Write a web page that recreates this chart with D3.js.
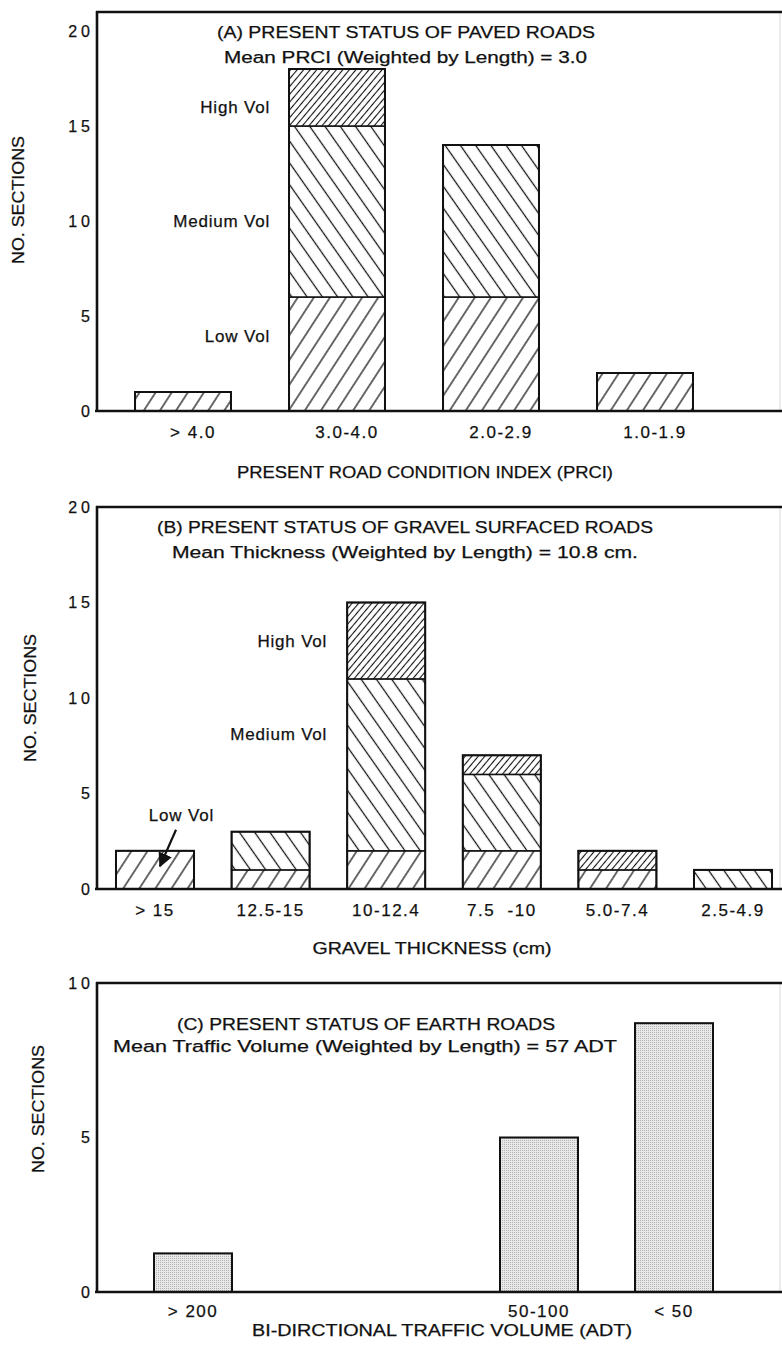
<!DOCTYPE html>
<html>
<head>
<meta charset="utf-8">
<script src="https://cdn.jsdelivr.net/npm/d3@7"></script>
<style>
  html, body { margin: 0; padding: 0; background: #fff; }
  svg { display: block; font-family: "Liberation Sans", Arial, Helvetica, sans-serif; }
  text { white-space: pre; fill: #111; stroke: #111; stroke-width: 0.25px; }
</style>
</head>
<body>
<svg id="chart" width="782" height="1345"></svg>
<script>
// (A) paved roads, sections per PRCI class, stacked by traffic volume
const pavedCategories = ["> 4.0", "3.0-4.0", "2.0-2.9", "1.0-1.9"];
const pavedLow = [1, 6, 6, 2];
const pavedMedium = [0, 9, 8, 0];
const pavedHigh = [0, 3, 0, 0];
const pavedTicks = [0, 5, 10, 15, 20];

// (B) gravel roads, sections per gravel thickness class
const gravelCategories = ["> 15", "12.5-15", "10-12.4", "7.5  -10", "5.0-7.4", "2.5-4.9"];
const gravelLow = [2, 1, 2, 2, 1, 0];
const gravelMedium = [0, 2, 9, 4, 0, 1];
const gravelHigh = [0, 0, 4, 1, 1, 0];
const gravelTicks = [0, 5, 10, 15, 20];

// (C) earth roads, sections per traffic volume class
const earthCategories = ["> 200", "50-100", "< 50"];
const earthSections = [1.25, 5, 8.7];
const earthTicks = [0, 5, 10];

const volumeKeys = ["low", "medium", "high"];

const svg = d3.select("#chart");
const defs = svg.append("defs");
const INK = "#111";

function addHatch(id, spacing, angle, width) {
  const p = defs.append("pattern")
    .attr("id", id)
    .attr("patternUnits", "userSpaceOnUse")
    .attr("width", spacing)
    .attr("height", spacing)
    .attr("patternTransform", `rotate(${angle})`);
  p.append("rect").attr("width", spacing).attr("height", spacing).attr("fill", "#fff");
  p.append("line")
    .attr("x1", spacing / 2).attr("y1", -1)
    .attr("x2", spacing / 2).attr("y2", spacing + 1)
    .attr("stroke", INK).attr("stroke-width", width);
}
addHatch("hatch-low", 13.5, 33, 1.25);     // wide  ////
addHatch("hatch-medium", 12.5, -35, 1.25); // wide  \\\\
addHatch("hatch-high", 5, 40, 1.1);        // dense ////

const stip = defs.append("pattern")
  .attr("id", "stipple").attr("patternUnits", "userSpaceOnUse")
  .attr("width", 2).attr("height", 2);
stip.append("rect").attr("width", 2).attr("height", 2).attr("fill", "#e8e8e8");
stip.append("rect").attr("width", 1).attr("height", 1).attr("fill", "#b4b4b4");

const fillFor = { low: "url(#hatch-low)", medium: "url(#hatch-medium)", high: "url(#hatch-high)" };

// arrow head for the "Low Vol" pointer
defs.append("marker")
  .attr("id", "arrowhead")
  .attr("viewBox", "0 0 10 10")
  .attr("refX", 9).attr("refY", 5)
  .attr("markerWidth", 6.5).attr("markerHeight", 6.5)
  .attr("markerUnits", "strokeWidth")
  .attr("orient", "auto")
  .append("path").attr("d", "M0,0 L10,5 L0,10 Z").attr("fill", INK);

const AXIS_X = 97;
const RIGHT_X = 782;

function drawFrame(g, y) {
  const [base, top] = y.range();
  g.append("line").attr("x1", RIGHT_X - 2).attr("x2", RIGHT_X - 2).attr("y1", top).attr("y2", base)
    .attr("stroke", "#d8d8d8").attr("stroke-width", 1);
  g.append("line").attr("x1", AXIS_X - 1).attr("x2", RIGHT_X).attr("y1", top).attr("y2", top)
    .attr("stroke", INK).attr("stroke-width", 2.4);
  g.append("line").attr("x1", AXIS_X - 2).attr("x2", RIGHT_X).attr("y1", base).attr("y2", base)
    .attr("stroke", INK).attr("stroke-width", 2.4);
  g.append("line").attr("x1", AXIS_X).attr("x2", AXIS_X).attr("y1", top - 1).attr("y2", base)
    .attr("stroke", INK).attr("stroke-width", 2.6);
}

function drawYAxis(g, y, ticks) {
  const ax = g.append("g")
    .attr("transform", `translate(${AXIS_X},0)`)
    .call(d3.axisLeft(y).tickValues(ticks).tickSize(0).tickPadding(3))
    .attr("font-family", null).attr("font-size", null);
  ax.select(".domain").remove();
  ax.selectAll("text").attr("font-size", 16).attr("letter-spacing", 4).attr("fill", INK);
}

function drawXAxis(g, x, y, offset, shift) {
  const base = y.range()[0];
  const ax = g.append("g")
    .attr("transform", `translate(0,${base})`)
    .call(d3.axisBottom(x).tickSize(0))
    .attr("font-family", null).attr("font-size", null);
  ax.select(".domain").remove();
  ax.selectAll("text")
    .attr("y", offset).attr("dy", "0.36em").attr("dx", shift)
    .attr("font-size", 17).attr("letter-spacing", 1.5).attr("fill", INK);
}

function fitText(g, str, cx, cy, width, size, rotate) {
  const t = g.append("text")
    .attr("text-anchor", "middle")
    .attr("dy", "0.36em")
    .attr("font-size", size)
    .attr("textLength", width)
    .attr("lengthAdjust", "spacingAndGlyphs")
    .text(str);
  if (rotate) {
    t.attr("transform", `translate(${cx},${cy}) rotate(-90)`);
  } else {
    t.attr("x", cx).attr("y", cy);
  }
  return t;
}

function volumeLabel(g, str, x, y) {
  g.append("text")
    .attr("x", x).attr("y", y).attr("dy", "0.36em")
    .attr("text-anchor", "end")
    .attr("font-size", 17).attr("letter-spacing", 0.8)
    .text(str);
}

function stackedBars(g, cats, low, medium, high, x, y) {
  const rows = cats.map((c, i) => ({ cat: c, low: low[i], medium: medium[i], high: high[i] }));
  const series = d3.stack().keys(volumeKeys)(rows);
  series.forEach(s => {
    g.append("g").selectAll("rect")
      .data(s.filter(d => d[1] - d[0] > 0))
      .join("rect")
      .attr("x", d => x(d.data.cat))
      .attr("y", d => y(d[1]))
      .attr("width", x.bandwidth())
      .attr("height", d => y(d[0]) - y(d[1]))
      .attr("fill", fillFor[s.key])
      .attr("stroke", INK)
      .attr("stroke-width", 1.5);
  });
  // outer outline of every bar
  g.append("g").selectAll("rect")
    .data(rows)
    .join("rect")
    .attr("x", d => x(d.cat))
    .attr("y", d => y(d.low + d.medium + d.high))
    .attr("width", x.bandwidth())
    .attr("height", d => y(0) - y(d.low + d.medium + d.high))
    .attr("fill", "none")
    .attr("stroke", INK)
    .attr("stroke-width", 2);
}

// ---------- (A) paved roads ----------
{
  const g = svg.append("g");
  const y = d3.scaleLinear().domain([0, 21]).range([411, 12]);
  const x = d3.scaleBand().domain(pavedCategories).range([106, 722])
    .paddingInner(0.377).paddingOuter(0.1885);
  stackedBars(g, pavedCategories, pavedLow, pavedMedium, pavedHigh, x, y);
  drawFrame(g, y);
  drawYAxis(g, y, pavedTicks);
  drawXAxis(g, x, y, 21, 10);

  const lx = x(pavedCategories[1]) - 19;
  volumeLabel(g, "High Vol", lx, y(16));
  volumeLabel(g, "Medium Vol", lx, y(10));
  volumeLabel(g, "Low Vol", lx, y(3.95));

  fitText(g, "(A) PRESENT STATUS OF PAVED ROADS", 406, 32, 378, 16);
  fitText(g, "Mean PRCI (Weighted by Length) = 3.0", 405.5, 57, 363, 16);
  fitText(g, "PRESENT ROAD CONDITION INDEX (PRCI)", 425, 472, 376, 16);
  fitText(g, "NO. SECTIONS", 18, 200, 128, 17, true);
}

// ---------- (B) gravel roads ----------
{
  const g = svg.append("g");
  const y = d3.scaleLinear().domain([0, 20]).range([889, 507]);
  const x = d3.scaleBand().domain(gravelCategories).range([97.2, 790.8])
    .paddingInner(0.325).paddingOuter(0.1625);
  stackedBars(g, gravelCategories, gravelLow, gravelMedium, gravelHigh, x, y);
  drawFrame(g, y);
  drawYAxis(g, y, gravelTicks);
  drawXAxis(g, x, y, 21, 0);

  const lx = x(gravelCategories[2]) - 20;
  volumeLabel(g, "High Vol", lx, y(13));
  volumeLabel(g, "Medium Vol", lx, y(8.1));
  volumeLabel(g, "Low Vol", x(gravelCategories[0]) + x.bandwidth() / 2 + 59, y(3.9));

  // pointer from "Low Vol" into the first bar
  const cx = x(gravelCategories[0]) + x.bandwidth() / 2;
  g.append("line")
    .attr("x1", cx + 21).attr("y1", y(3.1))
    .attr("x2", cx + 5).attr("y2", y(1.2))
    .attr("stroke", INK).attr("stroke-width", 2.2)
    .attr("marker-end", "url(#arrowhead)");

  fitText(g, "(B) PRESENT STATUS OF GRAVEL SURFACED ROADS", 405, 527, 496, 16);
  fitText(g, "Mean Thickness (Weighted by Length) = 10.8 cm.", 405, 552, 466, 16);
  fitText(g, "GRAVEL THICKNESS (cm)", 432, 948, 239, 16);
  fitText(g, "NO. SECTIONS", 30, 698, 128, 17, true);
}

// ---------- (C) earth roads ----------
{
  const g = svg.append("g");
  const y = d3.scaleLinear().domain([0, 10]).range([1292, 983]);
  const xc = d3.scaleOrdinal().domain(earthCategories).range([193, 539, 674]);
  const barW = 78;
  g.append("g").selectAll("rect")
    .data(earthCategories.map((c, i) => ({ cat: c, v: earthSections[i] })))
    .join("rect")
    .attr("x", d => xc(d.cat) - barW / 2)
    .attr("y", d => y(d.v))
    .attr("width", barW)
    .attr("height", d => y(0) - y(d.v))
    .attr("fill", "url(#stipple)")
    .attr("stroke", INK)
    .attr("stroke-width", 2);
  drawFrame(g, y);
  drawYAxis(g, y, earthTicks);

  g.append("g").selectAll("text")
    .data(earthCategories)
    .join("text")
    .attr("x", d => xc(d)).attr("y", y(0) + 19).attr("dy", "0.36em")
    .attr("text-anchor", "middle")
    .attr("font-size", 17).attr("letter-spacing", 1.5)
    .text(d => d);

  fitText(g, "(C) PRESENT STATUS OF EARTH ROADS", 366, 1024, 378, 16);
  fitText(g, "Mean Traffic Volume (Weighted by Length) = 57 ADT", 365, 1046, 504, 16);
  fitText(g, "BI-DIRCTIONAL TRAFFIC VOLUME (ADT)", 442, 1330, 380, 16);
  fitText(g, "NO. SECTIONS", 38, 1109, 128, 17, true);
}
</script>
</body>
</html>
